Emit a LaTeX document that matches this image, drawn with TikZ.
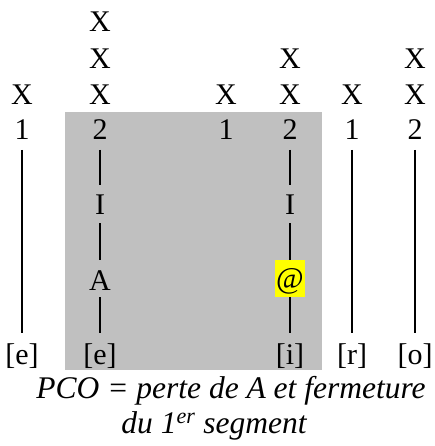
\documentclass[tikz,border=0pt]{standalone}
\usepackage{fontspec}
\setmainfont{Liberation Serif}
\definecolor{boxgray}{RGB}{192,192,192}
\definecolor{hl}{RGB}{255,255,0}
\begin{document}
\begin{tikzpicture}[x=1pt,y=-1pt,
  lbl/.style={inner sep=0pt,anchor=base,font=\fontsize{30}{32}\selectfont},
  captxt/.style={inner sep=0pt,anchor=base,font=\fontsize{31.5}{34}\selectfont\itshape},
  tier/.style={line width=2pt}]
\useasboundingbox (0,0) rectangle (434,446);
\fill[boxgray] (65,112) rectangle (322,370);
% column 1
\node[lbl] (x1a) at (22,105) {X};
\node[lbl] (n1) at (22,140) {1};
\node[lbl] (b1) at (22,364) {[e]};
% column 2
\node[lbl] (x2c) at (100,32) {X};
\node[lbl] (x2b) at (100,69) {X};
\node[lbl] (x2a) at (100,105) {X};
\node[lbl] (n2) at (100,140) {2};
\node[lbl] (i2) at (100,214) {I};
\node[lbl] (a2) at (100,290) {A};
\node[lbl] (b2) at (100,364) {[e]};
% column 3
\node[lbl] (x3a) at (226,105) {X};
\node[lbl] (n3) at (226,140) {1};
% column 4
\node[lbl] (x4b) at (290,69) {X};
\node[lbl] (x4a) at (290,105) {X};
\node[lbl] (n4) at (290,140) {2};
\node[lbl] (i4) at (290,214) {I};
\node[fill=hl,minimum width=30pt,minimum height=37pt,inner sep=0pt] (h4) at (290,278.5) {};
\node[lbl] (a4) at (290,288) {@};
\node[lbl] (b4) at (290,364) {[i]};
% column 5
\node[lbl] (x5a) at (352,105) {X};
\node[lbl] (n5) at (352,140) {1};
\node[lbl] (b5) at (352,364) {[r]};
% column 6
\node[lbl] (x6b) at (415,69) {X};
\node[lbl] (x6a) at (415,105) {X};
\node[lbl] (n6) at (415,140) {2};
\node[lbl] (b6) at (415,364) {[o]};
% association lines
\draw[tier] ([yshift=-10pt]n1.base) -- ([yshift=31pt]b1.base);
\draw[tier] ([yshift=-10pt]n2.base) -- ([yshift=29pt]i2.base);
\draw[tier] ([yshift=-9pt]i2.base) -- ([yshift=30pt]a2.base);
\draw[tier] ([yshift=-7pt]a2.base) -- ([yshift=31pt]b2.base);
\draw[tier] ([yshift=-10pt]n4.base) -- ([yshift=29pt]i4.base);
\draw[tier] ([yshift=-9pt]i4.base) -- (h4.north);
\draw[tier] (h4.south) -- ([yshift=31pt]b4.base);
\draw[tier] ([yshift=-10pt]n5.base) -- ([yshift=31pt]b5.base);
\draw[tier] ([yshift=-10pt]n6.base) -- ([yshift=31pt]b6.base);
% caption
\node[captxt] (c1) at (231,398) {PCO = perte de A et fermeture};
\node[captxt] (c2) at (214,433) {du 1\textsuperscript{er} segment};
\end{tikzpicture}
\end{document}
